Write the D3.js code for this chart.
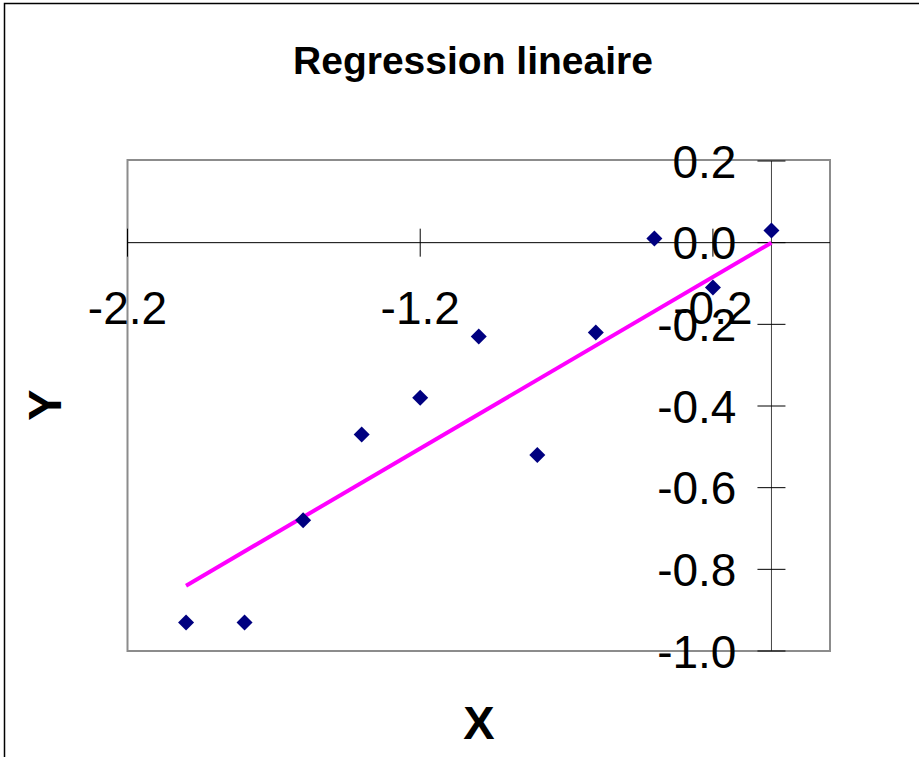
<!DOCTYPE html>
<html>
<head>
<meta charset="utf-8">
<script src="https://cdn.jsdelivr.net/npm/d3@7"></script>
<style>
  html, body { margin: 0; padding: 0; background: #fff; }
  svg { display: block; }
  text { font-family: "Liberation Sans", Arial, sans-serif; }
</style>
</head>
<body>
<svg id="chart" width="919" height="757"></svg>
<script>
const title = "Regression lineaire";
const xLabel = "X";
const yLabel = "Y";

const xValues = [-2.0, -1.8, -1.6, -1.4, -1.2, -1.0, -0.8, -0.6, -0.4, -0.2, 0.0];
const yValues = [-0.93, -0.93, -0.68, -0.47, -0.38, -0.23, -0.52, -0.22, 0.01, -0.11, 0.03];

const lineX = [-2.0, 0.0];
const lineY = [-0.84, 0.0];

const xTicks = [-2.2, -1.2, -0.2];
const yTicks = [0.2, 0.0, -0.2, -0.4, -0.6, -0.8, -1.0];

const xDomain = [-2.2, 0.2];
const yDomain = [-1.0, 0.2];

const svg = d3.select("#chart");

const plot = { left: 127.5, right: 830, top: 161, bottom: 651 };

const x = d3.scaleLinear().domain(xDomain).range([plot.left, plot.right]);
const y = d3.scaleLinear().domain(yDomain).range([plot.bottom, plot.top]);

// outer chart border (only top and left visible)
svg.append("rect")
  .attr("x", 4.5).attr("y", 3.5)
  .attr("width", 2000).attr("height", 2000)
  .attr("fill", "none").attr("stroke", "#000").attr("stroke-width", 1.5);

// plot area border
svg.append("rect")
  .attr("x", plot.left).attr("y", plot.top - 1)
  .attr("width", plot.right - plot.left)
  .attr("height", plot.bottom - plot.top + 1)
  .attr("fill", "none").attr("stroke", "#8c8c8c").attr("stroke-width", 2);

// title
svg.append("text")
  .attr("x", 473).attr("y", 74)
  .attr("text-anchor", "middle")
  .attr("font-weight", "bold")
  .attr("font-size", 39)
  .text(title);

// x axis at y = 0
const xAxisG = svg.append("g").attr("transform", `translate(0,${y(0)})`);
xAxisG.append("line")
  .attr("x1", plot.left).attr("x2", plot.right)
  .attr("stroke", "#000").attr("stroke-width", 1);
xAxisG.selectAll("line.tick").data(xTicks).join("line")
  .attr("class", "tick")
  .attr("x1", d => x(d)).attr("x2", d => x(d))
  .attr("y1", -14).attr("y2", 14)
  .attr("stroke", "#000").attr("stroke-width", 1);
xAxisG.selectAll("text").data(xTicks).join("text")
  .attr("x", d => x(d)).attr("y", 81)
  .attr("text-anchor", "middle")
  .attr("font-size", 46)
  .text(d => d3.format(".1f")(d).replace("−", "-"));

// y axis at x = 0
const yAxisG = svg.append("g").attr("transform", `translate(${x(0)},0)`);
yAxisG.append("line")
  .attr("y1", plot.top).attr("y2", plot.bottom)
  .attr("stroke", "#444").attr("stroke-width", 1);
yAxisG.selectAll("line.tick").data(yTicks).join("line")
  .attr("class", "tick")
  .attr("x1", -14).attr("x2", 14)
  .attr("y1", d => y(d)).attr("y2", d => y(d))
  .attr("stroke", "#000").attr("stroke-width", 1);
yAxisG.selectAll("text").data(yTicks).join("text")
  .attr("x", -35).attr("y", d => y(d))
  .attr("dy", "0.36em")
  .attr("text-anchor", "end")
  .attr("font-size", 46)
  .text(d => d3.format(".1f")(d).replace("−", "-"));

// regression line
const lineGen = d3.line().x(d => x(d[0])).y(d => y(d[1]));
svg.append("path")
  .datum(lineX.map((v, i) => [v, lineY[i]]))
  .attr("d", lineGen)
  .attr("fill", "none")
  .attr("stroke", "#ff00ff")
  .attr("stroke-width", 4);

// points
const sym = d3.symbol().type(d3.symbolSquare).size(128);
svg.selectAll("path.pt").data(xValues.map((v, i) => [v, yValues[i]])).join("path")
  .attr("class", "pt")
  .attr("d", sym)
  .attr("transform", d => `translate(${x(d[0])},${y(d[1])}) rotate(45)`)
  .attr("fill", "#000080");

// axis titles
svg.append("text")
  .attr("x", 479).attr("y", 739)
  .attr("text-anchor", "middle")
  .attr("font-weight", "bold")
  .attr("font-size", 47)
  .text(xLabel);

svg.append("text")
  .attr("transform", "translate(61,405) rotate(-90)")
  .attr("text-anchor", "middle")
  .attr("font-weight", "bold")
  .attr("font-size", 47)
  .text(yLabel);
</script>
</body>
</html>
